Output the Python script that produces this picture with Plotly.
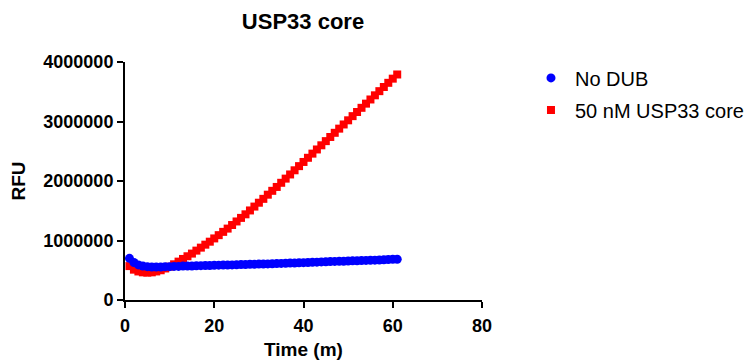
import plotly.graph_objects as go

time_min = list(range(1, 62))

no_dub = [0.70, 0.63, 0.59, 0.57, 0.56, 0.555, 0.555, 0.555, 0.56, 0.56,
          0.565, 0.565, 0.57, 0.57, 0.572, 0.575, 0.577, 0.58, 0.58, 0.582,
          0.585, 0.587, 0.588, 0.59, 0.592, 0.595, 0.597, 0.60, 0.60, 0.603,
          0.605, 0.607, 0.61, 0.612, 0.615, 0.617, 0.62, 0.622, 0.625, 0.628,
          0.63, 0.633, 0.636, 0.64, 0.642, 0.645, 0.648, 0.65, 0.652, 0.655,
          0.658, 0.66, 0.662, 0.665, 0.668, 0.67, 0.673, 0.676, 0.68, 0.683,
          0.685]
no_dub = [v * 1e6 for v in no_dub]

usp33 = [0.57, 0.51, 0.48, 0.465, 0.46, 0.465, 0.48, 0.50, 0.53, 0.56,
         0.60, 0.645, 0.69, 0.735, 0.78, 0.83, 0.88, 0.93, 0.98, 1.035,
         1.09, 1.145, 1.20, 1.26, 1.32, 1.38, 1.44, 1.505, 1.57, 1.635,
         1.70, 1.77, 1.835, 1.90, 1.97, 2.04, 2.11, 2.18, 2.25, 2.32,
         2.39, 2.46, 2.53, 2.60, 2.67, 2.74, 2.81, 2.88, 2.95, 3.02,
         3.09, 3.16, 3.23, 3.30, 3.37, 3.44, 3.51, 3.58, 3.65, 3.72,
         3.79]
usp33 = [v * 1e6 for v in usp33]

x_ticks = [0, 20, 40, 60, 80]
y_ticks = [0, 1000000, 2000000, 3000000, 4000000]

FONT = "Liberation Sans, Arial, sans-serif"

# page body has an 8px default margin; figure is sized so the plot lands
# at the same screen pixels as the reference
W, H = 748, 352

fig = go.Figure()
fig.add_trace(go.Scatter(
    x=time_min, y=usp33, mode="markers", name="50 nM USP33 core",
    marker=dict(symbol="square", size=8, color="#ff0000"),
    legendrank=2, legendgroup="b"))
fig.add_trace(go.Scatter(
    x=time_min, y=no_dub, mode="markers", name="No DUB",
    marker=dict(symbol="circle", size=9, color="#0000ff"),
    legendrank=1, legendgroup="a"))

fig.update_layout(
    width=W, height=H,
    margin=dict(l=117, r=274, t=54, b=60, pad=0, autoexpand=False),
    paper_bgcolor="white", plot_bgcolor="white",
    title=dict(text="USP33 core", x=295 / W, xanchor="center",
               y=1 - 13 / H, yanchor="middle",
               font=dict(family=FONT, size=22, color="black", weight="bold")),
    legend=dict(x=1.126, y=1.015, xanchor="left", yanchor="top",
                font=dict(family=FONT, size=20, color="black"),
                itemwidth=38, tracegroupgap=3, bgcolor="rgba(0,0,0,0)"),
    showlegend=True,
)
fig.update_xaxes(
    range=[0, 80], tickvals=x_ticks, ticktext=[str(v) for v in x_ticks],
    automargin=False,
    showgrid=False, zeroline=False, showline=True, linecolor="black", linewidth=2,
    ticks="outside", ticklen=6, tickwidth=2, tickcolor="black",
    ticklabelstandoff=2,
    tickfont=dict(family=FONT, size=18, color="black", weight="bold"),
    title=dict(text="Time (m)", standoff=14,
               font=dict(family=FONT, size=19, color="black", weight="bold")),
)
fig.update_yaxes(
    range=[0, 4000000], tickvals=y_ticks, ticktext=[str(v) for v in y_ticks],
    automargin=False,
    showgrid=False, zeroline=False, showline=True, linecolor="black", linewidth=2,
    ticks="outside", ticklen=6, tickwidth=2, tickcolor="black",
    tickfont=dict(family=FONT, size=18, color="black", weight="bold"),
    title=dict(text="RFU", standoff=16,
               font=dict(family=FONT, size=19, color="black", weight="bold")),
)

fig.write_html("out.html")
